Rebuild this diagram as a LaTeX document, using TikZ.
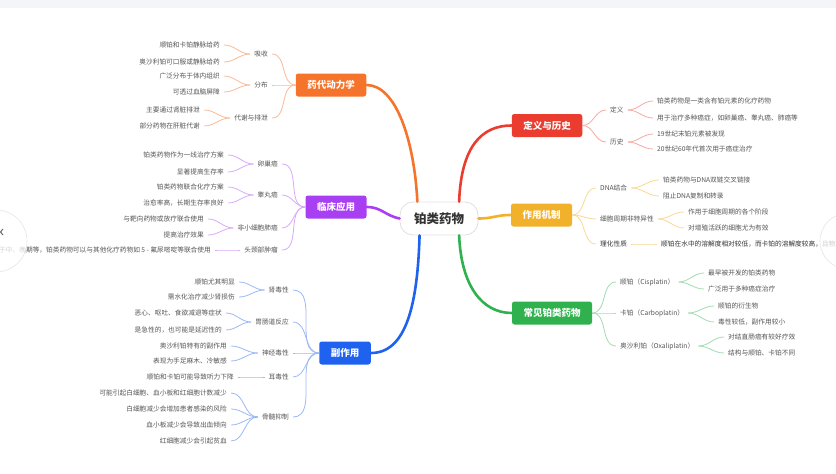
\documentclass[tikz,border=0pt]{standalone}
\usepackage{fontspec}
\setmainfont{Noto Sans CJK SC}
\usetikzlibrary{calc}
\definecolor{corange}{HTML}{F5732B}
\definecolor{cpurple}{HTML}{A93FF2}
\definecolor{cblue}{HTML}{1F62F0}
\definecolor{cred}{HTML}{EA3D30}
\definecolor{camber}{HTML}{F2B12A}
\definecolor{cgreen}{HTML}{2FB14E}
\definecolor{ctext}{HTML}{555555}
\definecolor{cdark}{HTML}{333333}
\definecolor{topbar}{HTML}{F4F5F9}
\begin{document}
\begin{tikzpicture}[x=1pt,y=-1pt,
  mainbox/.style={rounded corners=2.5pt, text=white, font=\fontsize{9.5}{11}\selectfont\bfseries, minimum height=23pt, inner xsep=11.5pt, inner ysep=0pt},
  lab/.style={text=ctext, font=\fontsize{6.7}{8}\selectfont, inner xsep=4pt, inner ysep=1pt},
  leafL/.style={lab, anchor=east},
  leafR/.style={lab, anchor=west},
  thinline/.style={line width=0.8pt},
  mainline/.style={line width=2.6pt, line cap=round}]

\useasboundingbox (0,0) rectangle (836,474);
\clip (0,0) rectangle (836,474);
\fill[topbar] (0,0) rectangle (836,8);

% centre
\node[draw=black!12, line width=0.8pt, fill=white, rounded corners=13pt, minimum width=78pt, minimum height=33pt, font=\fontsize{12.5}{14}\selectfont\bfseries, text=cdark] (c) at (439,218.5) {铂类药物};

% ---------- orange ----------
\node[mainbox, fill=corange] (o) at (331,85) {药代动力学};
\node[leafL] (o1) at (272,54) {吸收};
\node[leafL] (o2) at (272,85) {分布};
\node[leafL] (o3) at (272,118) {代谢与排泄};
\node[leafL] (o1a) at (224,45) {顺铂和卡铂静脉给药};
\node[leafL] (o1b) at (224,62) {奥沙利铂可口服或静脉给药};
\node[leafL] (o2a) at (224,76) {广泛分布于体内组织};
\node[leafL] (o2b) at (224,92) {可透过血脑屏障};
\node[leafL] (o3a) at (204,110) {主要通过肾脏排泄};
\node[leafL] (o3b) at (204,126) {部分药物在肝脏代谢};
\foreach \s in {o1,o2,o3} \draw[thinline, corange!50] (o.west) to[out=180,in=0] (\s.east);
\foreach \s/\l in {o1/o1a,o1/o1b,o2/o2a,o2/o2b,o3/o3a,o3/o3b}
  \draw[thinline, corange!50] (\s.west) to[out=180,in=0] (\l.east);

% ---------- purple ----------
\node[mainbox, fill=cpurple] (p) at (336,207) {临床应用};
\node[leafL] (p1) at (282,164) {卵巢癌};
\node[leafL] (p2) at (282,195) {睾丸癌};
\node[leafL] (p3) at (282,228) {非小细胞肺癌};
\node[leafL] (p4) at (282,250) {头颈部肿瘤};
\node[leafL] (p1a) at (228,155) {铂类药物作为一线治疗方案};
\node[leafL] (p1b) at (228,172) {显著提高生存率};
\node[leafL] (p2a) at (228,187) {铂类药物联合化疗方案};
\node[leafL] (p2b) at (228,203) {治愈率高，长期生存率良好};
\node[leafL] (p3a) at (208,219) {与靶向药物或放疗联合使用};
\node[leafL] (p3b) at (208,235) {提高治疗效果};
\node[leafL] (p4a) at (215,250) {对于中、晚期等，铂类药物可以与其他化疗药物如 5 - 氟尿嘧啶等联合使用};
\foreach \s in {p1,p2,p3,p4} \draw[thinline, cpurple!45] (p.west) to[out=180,in=0] (\s.east);
\foreach \s/\l in {p1/p1a,p1/p1b,p2/p2a,p2/p2b,p3/p3a,p3/p3b,p4/p4a}
  \draw[thinline, cpurple!45] (\s.west) to[out=180,in=0] (\l.east);

% ---------- blue ----------
\node[mainbox, fill=cblue] (b) at (345,353) {副作用};
\node[leafL] (b1) at (293,290) {肾毒性};
\node[leafL] (b2) at (293,322) {胃肠道反应};
\node[leafL] (b3) at (293,353) {神经毒性};
\node[leafL] (b4) at (293,377) {耳毒性};
\node[leafL] (b5) at (293,417) {骨髓抑制};
\node[leafL] (b1a) at (239,282) {顺铂尤其明显};
\node[leafL] (b1b) at (239,297) {需水化治疗减少肾损伤};
\node[leafL] (b2a) at (226,313) {恶心、呕吐、食欲减退等症状};
\node[leafL] (b2b) at (226,330) {是急性的，也可能是延迟性的};
\node[leafL] (b3a) at (231,346) {奥沙利铂特有的副作用};
\node[leafL] (b3b) at (231,361) {表现为手足麻木、冷敏感};
\node[leafL] (b4a) at (238,377) {顺铂和卡铂可能导致听力下降};
\node[leafL] (b5a) at (231,393) {可能引起白细胞、血小板和红细胞计数减少};
\node[leafL] (b5b) at (231,409) {白细胞减少会增加患者感染的风险};
\node[leafL] (b5c) at (231,425) {血小板减少会导致出血倾向};
\node[leafL] (b5d) at (231,441) {红细胞减少会引起贫血};
\foreach \s in {b1,b2,b3,b4,b5} \draw[thinline, cblue!45] (b.west) to[out=180,in=0] (\s.east);
\foreach \s/\l in {b1/b1a,b1/b1b,b2/b2a,b2/b2b,b3/b3a,b3/b3b,b4/b4a,b5/b5a,b5/b5b,b5/b5c,b5/b5d}
  \draw[thinline, cblue!45] (\s.west) to[out=180,in=0] (\l.east);

% ---------- red ----------
\node[mainbox, fill=cred] (r) at (547,125.5) {定义与历史};
\node[leafR] (r1) at (606,110) {定义};
\node[leafR] (r2) at (606,142) {历史};
\node[leafR] (r1a) at (653,101) {铂类药物是一类含有铂元素的化疗药物};
\node[leafR] (r1b) at (653,118) {用于治疗多种癌症，如卵巢癌、睾丸癌、肺癌等};
\node[leafR] (r2a) at (653,134) {19世纪末铂元素被发现};
\node[leafR] (r2b) at (653,149) {20世纪60年代首次用于癌症治疗};
\foreach \s in {r1,r2} \draw[thinline, cred!45] (r.east) to[out=0,in=180] (\s.west);
\foreach \s/\l in {r1/r1a,r1/r1b,r2/r2a,r2/r2b}
  \draw[thinline, cred!45] (\s.east) to[out=0,in=180] (\l.west);

% ---------- amber ----------
\node[mainbox, fill=camber] (a) at (541.5,215) {作用机制};
\node[leafR] (a1) at (596,188) {DNA结合};
\node[leafR] (a2) at (596,219) {细胞周期非特异性};
\node[leafR, text=cdark] (a3) at (596,244) {理化性质};
\node[leafR] (a1a) at (659,180) {铂类药物与DNA双链交叉链接};
\node[leafR] (a1b) at (659,196) {阻止DNA复制和转录};
\node[leafR] (a2a) at (684,212) {作用于细胞周期的各个阶段};
\node[leafR] (a2b) at (684,228) {对增殖活跃的细胞尤为有效};
\node[leafR, text=cdark] (a3a) at (657,244) {顺铂在水中的溶解度相对较低，而卡铂的溶解度较高，且物理性质稳定};
\foreach \s in {a1,a2,a3} \draw[thinline, camber!50] (a.east) to[out=0,in=180] (\s.west);
\foreach \s/\l in {a1/a1a,a1/a1b,a2/a2a,a2/a2b,a3/a3a}
  \draw[thinline, camber!50] (\s.east) to[out=0,in=180] (\l.west);

% ---------- green ----------
\node[mainbox, fill=cgreen] (g) at (552,313) {常见铂类药物};
\node[leafR] (g1) at (616,282) {顺铂（Cisplatin）};
\node[leafR] (g2) at (616,313) {卡铂（Carboplatin）};
\node[leafR] (g3) at (616,346) {奥沙利铂（Oxaliplatin）};
\node[leafR] (g1a) at (704,273) {最早被开发的铂类药物};
\node[leafR] (g1b) at (704,289) {广泛用于多种癌症治疗};
\node[leafR] (g2a) at (714,306) {顺铂的衍生物};
\node[leafR] (g2b) at (714,322) {毒性较低，副作用较小};
\node[leafR] (g3a) at (724,337) {对结直肠癌有较好疗效};
\node[leafR] (g3b) at (724,353) {结构与顺铂、卡铂不同};
\foreach \s in {g1,g2,g3} \draw[thinline, cgreen!45] (g.east) to[out=0,in=180] (\s.west);
\foreach \s/\l in {g1/g1a,g1/g1b,g2/g2a,g2/g2b,g3/g3a,g3/g3b}
  \draw[thinline, cgreen!45] (\s.east) to[out=0,in=180] (\l.west);

% ---------- main connectors ----------
\draw[mainline, corange] (c.142) .. controls +(-3,-60) and +(30,0) .. (o.east);
\draw[mainline, cred] (c.40) .. controls +(2,-55) and +(-30,0) .. (r.west);
\draw[mainline, cpurple] (c.west) .. controls +(-15,-3) and +(15,0) .. (p.east);
\draw[mainline, camber] (c.east) .. controls +(15,0) and +(-15,0) .. (a.west);
\draw[mainline, cblue] (c.-139) .. controls +(-2,70) and +(35,0) .. (b.east);
\draw[mainline, cgreen] (c.-40) .. controls +(2,50) and +(-30,0) .. (g.west);

% ---------- side scroll buttons ----------
\fill[white, opacity=0.75] (-4,241) circle (31);
\draw[black!10, line width=0.6pt] (-4,241) circle (31);
\draw[black!60, line width=1pt] (3,229) -- (0.5,232) -- (3,235);
\fill[white, opacity=0.75] (848,241) circle (28);
\draw[black!10, line width=0.6pt] (848,241) circle (28);
\end{tikzpicture}
\end{document}
